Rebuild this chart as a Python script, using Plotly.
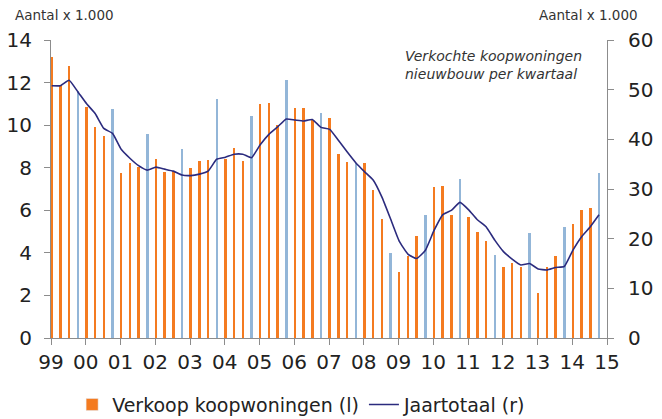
import plotly.graph_objects as go

years = list(range(1999, 2015))
quarter_labels = [f"{y}K{q}" for y in years for q in range(1, 5)]

verkoop = [
    13.2, 11.9, 12.8, 11.6,
    10.84, 9.9, 9.5, 10.76,
    7.73, 8.23, 8.05, 9.57,
    8.39, 7.81, 7.86, 8.86,
    7.97, 8.31, 8.36, 11.23,
    8.39, 8.94, 8.33, 10.44,
    10.99, 11.02, 10.0, 12.12,
    10.79, 10.79, 10.24, 10.55,
    10.32, 8.64, 8.27, 8.2,
    8.22, 6.96, 5.58, 4.0,
    3.12, 3.85, 4.77, 5.78,
    7.1, 7.15, 5.78, 7.48,
    5.67, 4.99, 4.55, 3.88,
    3.35, 3.52, 3.33, 4.95,
    2.13, 3.33, 3.85, 5.23,
    5.34, 6.01, 6.09, 7.73,
]

jaartotaal = [
    50.8, 50.8, 51.9, 49.6,
    47.2, 45.2, 42.2, 41.2,
    38.0, 36.2, 34.7, 33.8,
    34.4, 34.0, 33.6, 32.8,
    32.7, 33.0, 33.6, 36.0,
    36.4, 37.0, 37.0, 36.3,
    38.9, 41.0, 42.5, 44.1,
    43.9, 43.7, 44.0, 42.4,
    42.0, 39.8, 37.5, 35.3,
    33.5, 31.8, 28.4, 24.0,
    19.5, 16.9, 16.0, 17.6,
    21.6, 24.8, 25.7, 27.3,
    25.8, 23.8, 22.4, 19.7,
    17.4, 15.9, 14.7, 15.0,
    13.9, 13.7, 14.2, 14.4,
    17.7, 20.4, 22.4, 24.8,
]

tick_years = list(range(1999, 2016))
tick_labels = [f"{y % 100:02d}" for y in tick_years]

ORANGE = "#F47B20"
BLUE = "#93B6D8"
NAVY = "#2B2B7E"
AXIS = "#8C8C8C"
FONT = "DejaVu Sans"

xpos = [int(lbl[:4]) + (int(lbl[-1]) - 1) * 0.25 + 0.02 for lbl in quarter_labels]
colors = [BLUE if lbl.endswith("4") else ORANGE for lbl in quarter_labels]

fig = go.Figure()
fig.add_trace(go.Bar(
    x=xpos, y=verkoop, width=0.072,
    marker=dict(color=colors, line=dict(width=0)),
    name="Verkoop koopwoningen (l)", showlegend=False,
    yaxis="y",
))
# legend swatch in orange
fig.add_trace(go.Bar(
    x=[None], y=[None], marker=dict(color=ORANGE),
    name="Verkoop koopwoningen (l)", showlegend=True,
))
fig.add_trace(go.Scatter(
    x=xpos, y=jaartotaal, mode="lines",
    line=dict(color=NAVY, width=1.6, shape="spline", smoothing=0.4),
    name="Jaartotaal (r)", yaxis="y2",
))

fig.update_layout(
    width=654, height=411,
    margin=dict(l=43, r=55, t=32, b=81, autoexpand=False),
    plot_bgcolor="white", paper_bgcolor="white",
    font=dict(family=FONT, size=20, color="#222222"),
    bargap=0,
    xaxis=dict(
        range=[1999, 2015], tickmode="array", tickvals=tick_years, ticktext=tick_labels,
        showgrid=False, zeroline=False, showline=True, linecolor=AXIS, linewidth=1,
        ticks="outside", ticklen=6, tickcolor=AXIS, tickfont=dict(size=20),
        automargin=False,
    ),
    yaxis=dict(
        range=[0, 14], dtick=2, showgrid=False, zeroline=False,
        showline=True, linecolor=AXIS, linewidth=1,
        ticks="outside", ticklen=6, tickcolor=AXIS, tickfont=dict(size=20),
        ticklabelstandoff=8, automargin=False,
    ),
    yaxis2=dict(
        range=[0, 60], dtick=10, overlaying="y", side="right",
        showgrid=False, zeroline=False, showline=True, linecolor=AXIS, linewidth=1,
        ticks="outside", ticklen=6, tickcolor=AXIS, tickfont=dict(size=20),
        ticklabelstandoff=10, automargin=False,
    ),
    legend=dict(
        orientation="h", x=0.038, xanchor="left", yref="container", y=0.035, yanchor="middle",
        font=dict(size=19, color="#222222"), itemwidth=30, tracegroupgap=0,
        bgcolor="rgba(0,0,0,0)",
    ),
    showlegend=True,
)

fig.add_annotation(
    xref="paper", yref="paper", x=-0.068, y=1.084, xanchor="left", yanchor="middle",
    text="Aantal x 1.000", showarrow=False, font=dict(size=13.5, color="#333333"),
)
fig.add_annotation(
    xref="paper", yref="paper", x=1.059, y=1.084, xanchor="right", yanchor="middle",
    text="Aantal x 1.000", showarrow=False, font=dict(size=13.5, color="#333333"),
)
fig.add_annotation(
    xref="paper", yref="paper", x=0.633, y=0.98, xanchor="left", yanchor="top",
    text="<i>Verkochte koopwoningen<br>nieuwbouw per kwartaal</i>", align="left",
    showarrow=False, font=dict(size=14, color="#333333"),
)

fig.write_html("out.html")
